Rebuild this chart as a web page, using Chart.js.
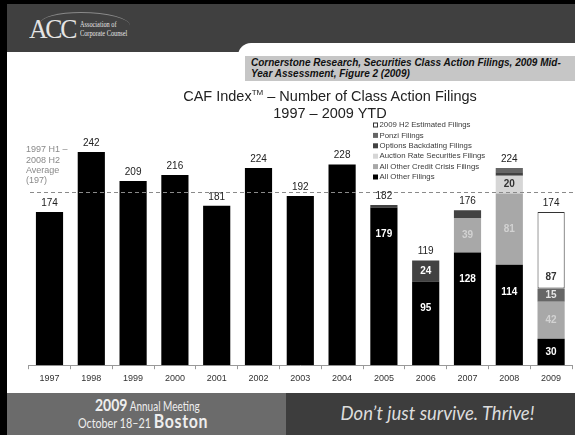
<!DOCTYPE html>
<html>
<head>
<meta charset="utf-8">
<script src="https://cdn.jsdelivr.net/npm/chart.js@4.4.0/dist/chart.umd.min.js"></script>
<style>
  body{margin:0;width:575px;height:435px;overflow:hidden;background:#fff;position:relative;font-family:"Liberation Sans",Arial,sans-serif}
  #chart{position:absolute;left:0;top:0}
  .blk{position:absolute;background:#000}
  #head{position:absolute;left:7px;top:4px;width:568px;height:48px;background:#404040}
  #tab{position:absolute;left:238px;top:43px;width:340px;height:20px;background:#fff;border-top-left-radius:13px}
  #logoA{position:absolute;left:29px;top:13px;font-family:"Liberation Serif",serif;font-size:28px;color:#e4e4e4;letter-spacing:-2.5px;transform:scaleX(0.92);transform-origin:left top}
  #logoT{position:absolute;left:80px;top:20px;font-family:"Liberation Serif",serif;font-size:8.5px;line-height:8.5px;color:#e4e4e4;transform:scaleX(0.74);transform-origin:left top;white-space:nowrap}
  #swoosh{position:absolute;left:40px;top:12px;width:90px;height:24px;border-top:1px solid #8a8a8a;border-radius:50% 60% 0 0}
  #cap{position:absolute;left:245px;top:56px;width:324px;height:24px;background:#c6c6c6;padding-left:6px;padding-top:1px;font-size:10px;line-height:11px;font-weight:bold;font-style:italic;color:#111;white-space:nowrap}
  #title{position:absolute;left:130px;top:88px;width:400px;text-align:center;font-size:14.5px;line-height:17px;color:#222}
  #title sup{font-size:8px;vertical-align:6px;line-height:0}
  #footL{position:absolute;left:7px;top:393px;width:279px;height:42px;background:#6b6b6b;color:#eeeeee;font-family:Lato,sans-serif}
  #footR{position:absolute;left:286px;top:393px;width:289px;height:42px;background:#3d3d3d;color:#dcdcdc;font-family:Lato,sans-serif;font-style:italic;font-size:18.5px;text-align:center;line-height:40px;padding-left:14px;box-sizing:border-box}
  #footL .l{position:absolute;white-space:nowrap;transform-origin:left top}
  #footL .l1{left:88px;top:1px;font-size:12.5px;transform:scaleX(0.8)}
  #footL .l2{left:71px;top:17px;font-size:12.5px;transform:scaleX(0.86)}
  #footL .big{font-size:17.5px;font-weight:bold}
  #footL .bos{font-size:18.5px;font-weight:bold;letter-spacing:0.8px}
</style>
</head>
<body>
<canvas id="chart" width="575" height="435"></canvas>
<div class="blk" style="left:0;top:0;width:575px;height:4px"></div>
<div id="head"></div>
<div id="tab"></div>
<div class="blk" style="left:0;top:0;width:7px;height:435px"></div>
<div id="swoosh"></div>
<div id="logoA">ACC</div>
<div id="logoT">Association of<br>Corporate Counsel</div>
<div id="cap">Cornerstone Research, Securities Class Action Filings, 2009 Mid-<br>Year Assessment, Figure 2 (2009)</div>
<div id="title">CAF Index<sup>TM</sup> – Number of Class Action Filings<br>1997 – 2009 YTD</div>
<div id="footL"><div class="l l1"><span class="big">2009</span> Annual Meeting</div><div class="l l2">October 18–21 <span class="bos">Boston</span></div></div>
<div id="footR">Don’t just survive. Thrive!</div>

<script>
// ---- data ----
const years = ['1997','1998','1999','2000','2001','2002','2003','2004','2005','2006','2007','2008','2009'];
const allOther     = [174,242,209,216,181,224,192,228,179,95,128,114,30];
const creditCrisis = [0,0,0,0,0,0,0,0,0,0,39,81,42];
const auctionRate  = [0,0,0,0,0,0,0,0,0,0,0,20,0];
const backdating   = [0,0,0,0,0,0,0,0,3,24,9,4,0];
const ponzi        = [0,0,0,0,0,0,0,0,0,0,0,5,15];
const h2Estimated  = [0,0,0,0,0,0,0,0,0,0,0,0,87];
const avgValue = 197;
const avgLabel = ['1997 H1 –', '2008 H2', 'Average', '(' + avgValue + ')'];

const FONT = '"Liberation Sans", Arial, sans-serif';
const nz = a => a.map(v => v || null);

function ds(label, data, color, labelColor, extra){
  return Object.assign({ label, data: nz(data), backgroundColor: color, labelColor,
    barPercentage: 0.65, categoryPercentage: 1, borderWidth: 0 }, extra || {});
}

const datasets = [
  ds('All Other Filings', allOther, '#000000', '#ffffff'),
  ds('All Other Credit Crisis Filings', creditCrisis, '#a8a8a8', '#d2d2d2'),
  ds('Auction Rate Securities Filings', auctionRate, '#d6d6d6', '#333333'),
  ds('Options Backdating Filings', backdating, '#424242', '#ffffff'),
  ds('Ponzi Filings', ponzi, '#666666', '#e6e6e6'),
  ds('2009 H2 Estimated Filings', h2Estimated, '#ffffff', '#333333', { borderWidth: 1, borderColor: '#333333', borderSkipped: false })
];

// totals, labels, average line and legend drawn on top of the bars
const overlay = {
  id: 'overlay',
  afterDatasetsDraw(chart){
    const ctx = chart.ctx, y = chart.scales.y;
    ctx.save();
    // average line
    const ay = y.getPixelForValue(avgValue);
    ctx.strokeStyle = '#8a8a8a'; ctx.lineWidth = 1; ctx.setLineDash([4, 3]);
    ctx.beginPath(); ctx.moveTo(30, Math.round(ay) + 0.5); ctx.lineTo(575, Math.round(ay) + 0.5); ctx.stroke();
    ctx.setLineDash([]);
    ctx.fillStyle = '#8a8a8a'; ctx.font = '9px ' + FONT; ctx.textAlign = 'left'; ctx.textBaseline = 'middle';
    avgLabel.forEach((t, i) => ctx.fillText(t, 26, 150 + i * 10.3));

    // labels
    ctx.textAlign = 'center';
    years.forEach((yr, i) => {
      let top = Infinity, x = 0, segs = 0;
      chart.data.datasets.forEach((d, di) => {
        const v = d.data[i];
        if (!v) return;
        segs++;
        const el = chart.getDatasetMeta(di).data[i];
        top = Math.min(top, el.y); x = el.x;
      });
      const total = chart.data.datasets.reduce((s, d) => s + (d.data[i] || 0), 0);
      ctx.font = '10px ' + FONT; ctx.fillStyle = '#222';
      ctx.fillText(total, x, top - 9);
      if (segs < 2) return;
      chart.data.datasets.forEach((d, di) => {
        const v = d.data[i];
        if (!v || v < 15) return;
        const el = chart.getDatasetMeta(di).data[i];
        let ly = (el.y + el.base) / 2;
        if (di === 0 && el.base - el.y > 50) ly = el.y + 27;
        if (di === 5) ly = el.base - 11;
        ctx.font = 'bold 10px ' + FONT; ctx.fillStyle = d.labelColor;
        ctx.fillText(v, el.x, ly);
      });
    });

    // legend (top of stack first)
    ctx.font = '7.8px ' + FONT; ctx.textAlign = 'left';
    chart.data.datasets.slice().reverse().forEach((d, i) => {
      const ry = 125 + i * 10.4;
      ctx.fillStyle = d.backgroundColor;
      ctx.fillRect(373, ry - 2.5, 5, 5);
      if (d.borderWidth) { ctx.strokeStyle = '#333'; ctx.strokeRect(373.5, ry - 2, 4, 4); }
      ctx.fillStyle = '#3a3a3a';
      ctx.fillText(d.label, 379.5, ry);
    });
    ctx.restore();
  }
};

Chart.defaults.font.family = FONT;

new Chart(document.getElementById('chart'), {
  type: 'bar',
  data: { labels: years, datasets },
  options: {
    responsive: false,
    animation: false,
    devicePixelRatio: 1,
    layout: { padding: { left: 28.6, right: 3, top: 136.2, bottom: 47 } },
    plugins: { legend: { display: false }, tooltip: { enabled: false }, title: { display: false } },
    scales: {
      x: {
        stacked: true,
        grid: { display: true, drawOnChartArea: false, tickLength: 4, color: '#999' },
        border: { display: true, color: '#999' },
        ticks: { color: '#333', font: { size: 9 }, padding: 4 }
      },
      y: { stacked: true, display: false, min: 0, max: 260 }
    }
  },
  plugins: [overlay]
});
</script>
</body>
</html>
